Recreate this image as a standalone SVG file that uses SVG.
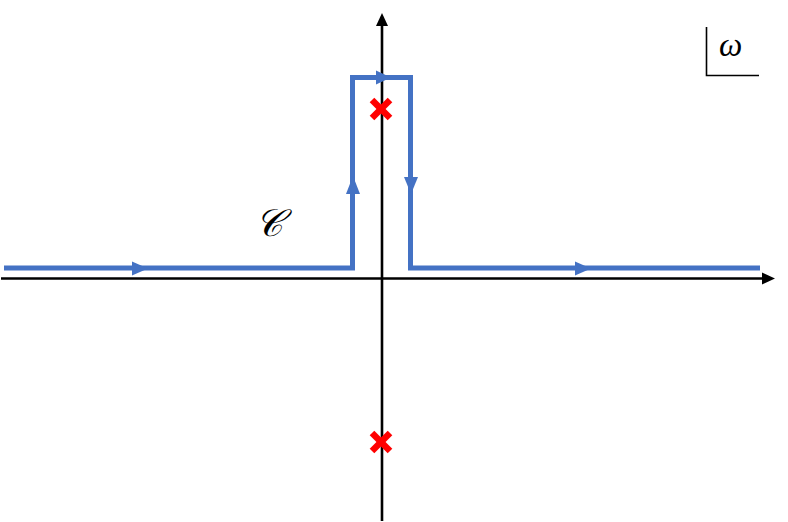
<svg xmlns="http://www.w3.org/2000/svg" width="788" height="522" viewBox="0 0 788 522">
<style>
.axis{stroke:#000;stroke-width:2.6;fill:none}
.ah{fill:#000}
.contour{stroke:#4472C4;stroke-width:5;fill:none;stroke-linejoin:miter}
.cah{fill:#4472C4}
.pole{stroke:#FF0000;stroke-width:6.5;stroke-linecap:butt}
.lbl{font-family:"Liberation Serif","DejaVu Serif",serif;font-style:italic;fill:#000}
</style>
<rect width="788" height="522" fill="#fff"/>
<g id="axes">
<line class="axis" x1="1" y1="278.5" x2="764" y2="278.5"/>
<polygon class="ah" points="775,278.5 762,272.5 762,284.5"/>
<line class="axis" x1="382" y1="521" x2="382" y2="24"/>
<polygon class="ah" points="382,13 376,26 388,26"/>
</g>
<g id="connectors">
<path class="contour" d="M4,268 H352.5 V77.5 H410.5 V268 H760"/>
<polygon class="cah" points="148,268.5 132,261.5 132,275.5"/>
<polygon class="cah" points="591,268.5 575,261.5 575,275.5"/>
<polygon class="cah" points="391,77.5 376,70.5 376,84.5"/>
<polygon class="cah" points="353,176 346,194 360,194"/>
<polygon class="cah" points="411,194 404,177 418,177"/>
</g>
<g id="pole-upper">
<line class="pole" x1="372" y1="100" x2="390" y2="118"/>
<line class="pole" x1="390" y1="100" x2="372" y2="118"/>
</g>
<g id="pole-lower">
<line class="pole" x1="372" y1="433" x2="390" y2="451"/>
<line class="pole" x1="390" y1="433" x2="372" y2="451"/>
</g>
<g id="label-C">
<text class="lbl" x="255" y="236" font-size="38">𝒞</text>
</g>
<g id="label-omega">
<path d="M706.5,27 V75.5 H759" stroke="#000" stroke-width="1.6" fill="none"/>
<text class="lbl" x="719" y="56" font-size="33">ω</text>
</g>
</svg>
